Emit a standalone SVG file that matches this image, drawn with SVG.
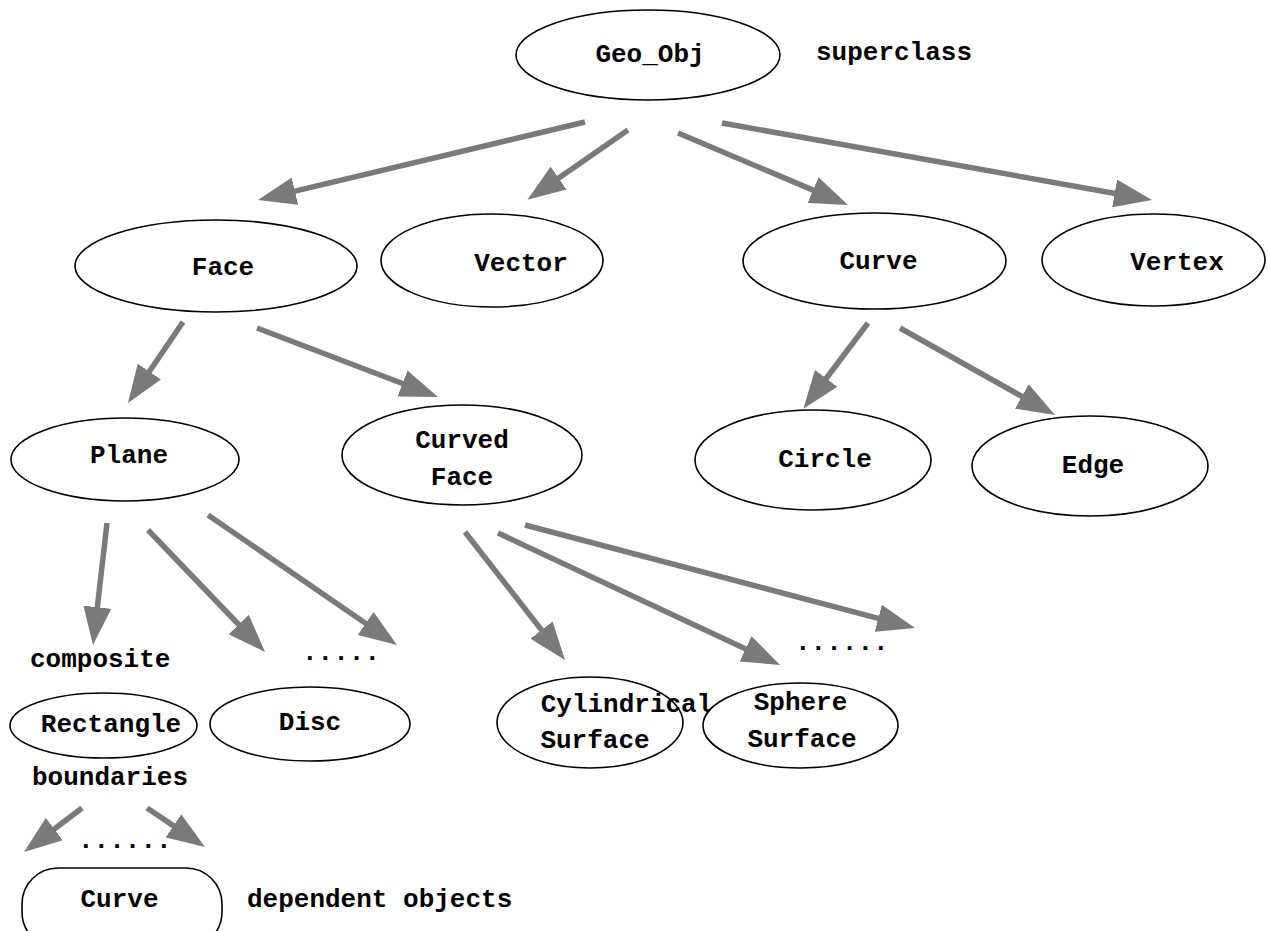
<svg xmlns="http://www.w3.org/2000/svg" width="1268" height="931" viewBox="0 0 1268 931">
  <style>
    .node { fill: #ffffff; stroke: #000000; stroke-width: 1.6; }
    .lbl { font-family: "Liberation Mono", "Courier New", monospace; font-weight: bold; font-size: 26px; fill: #000000; text-anchor: middle; }
    .note { font-family: "Liberation Mono", "Courier New", monospace; font-weight: bold; font-size: 26px; fill: #000000; }
    .link { stroke: #7a7a7a; stroke-width: 5.5; fill: none; marker-end: url(#head); }
  </style>
  <defs>
    <marker id="head" markerUnits="userSpaceOnUse" viewBox="0 0 38 28" markerWidth="38" markerHeight="28" refX="2" refY="14" orient="auto">
      <path d="M0,0 L38,14 L0,28 Z" fill="#7a7a7a"/>
    </marker>
  </defs>
  <rect width="1268" height="931" fill="#ffffff"/>

  <!-- class hierarchy connectors -->
  <g id="connectors">
    <line class="link" x1="585" y1="122" x2="293" y2="191.6"/>
    <line class="link" x1="628" y1="130" x2="557" y2="179.2"/>
    <line class="link" x1="678" y1="133" x2="814.9" y2="190.9"/>
    <line class="link" x1="722" y1="123" x2="1116.6" y2="193.7"/>
    <line class="link" x1="183" y1="322" x2="148.2" y2="373.2"/>
    <line class="link" x1="257" y1="328" x2="404.4" y2="384.2"/>
    <line class="link" x1="868" y1="323" x2="825" y2="380"/>
    <line class="link" x1="900" y1="328" x2="1023.6" y2="397.4"/>
    <line class="link" x1="107" y1="523" x2="97.1" y2="609.2"/>
    <line class="link" x1="148" y1="530" x2="240.1" y2="626"/>
    <line class="link" x1="208" y1="515" x2="367.3" y2="624.6"/>
    <line class="link" x1="465" y1="532" x2="542.8" y2="631.6"/>
    <line class="link" x1="498" y1="533" x2="747.4" y2="649.7"/>
    <line class="link" x1="525" y1="525" x2="880.2" y2="618.8"/>
    <line class="link" x1="82" y1="808" x2="52.7" y2="830.2"/>
    <line class="link" x1="147" y1="808" x2="175.1" y2="826.9"/>
  </g>

  <g id="geo_obj">
    <ellipse class="node" cx="648" cy="55" rx="132" ry="45"/>
    <text class="lbl" x="650" y="62">Geo_Obj</text>
  </g>
  <text class="note" x="816" y="60">superclass</text>

  <g id="face">
    <ellipse class="node" cx="216" cy="266" rx="141" ry="46"/>
    <text class="lbl" x="223" y="275">Face</text>
  </g>
  <g id="vector">
    <ellipse class="node" cx="492" cy="260.5" rx="111" ry="46.5"/>
    <text class="lbl" x="521" y="271">Vector</text>
  </g>
  <g id="curve">
    <ellipse class="node" cx="874.5" cy="261" rx="131.5" ry="48"/>
    <text class="lbl" x="878.5" y="269">Curve</text>
  </g>
  <g id="vertex">
    <ellipse class="node" cx="1153.5" cy="260" rx="111.5" ry="46"/>
    <text class="lbl" x="1177" y="270">Vertex</text>
  </g>

  <g id="plane">
    <ellipse class="node" cx="125" cy="459.5" rx="114" ry="41.5"/>
    <text class="lbl" x="129" y="463">Plane</text>
  </g>
  <g id="curved_face">
    <ellipse class="node" cx="462" cy="455" rx="120" ry="50"/>
    <text class="lbl" x="462" y="448">Curved</text>
    <text class="lbl" x="462" y="485">Face</text>
  </g>
  <g id="circle">
    <ellipse class="node" cx="813" cy="460" rx="118" ry="50"/>
    <text class="lbl" x="825" y="467">Circle</text>
  </g>
  <g id="edge">
    <ellipse class="node" cx="1090" cy="466" rx="118" ry="50"/>
    <text class="lbl" x="1093" y="473">Edge</text>
  </g>

  <text class="note" x="30" y="667">composite</text>
  <text class="note" x="302" y="660">.....</text>
  <text class="note" x="795" y="650">......</text>

  <g id="rectangle">
    <ellipse class="node" cx="103.5" cy="725.5" rx="93.5" ry="32.5"/>
    <text class="lbl" x="111" y="732">Rectangle</text>
  </g>
  <g id="disc">
    <ellipse class="node" cx="310" cy="724" rx="100" ry="37"/>
    <text class="lbl" x="310" y="730">Disc</text>
  </g>
  <g id="cylindrical_surface">
    <ellipse class="node" cx="590" cy="722.5" rx="93" ry="45.5"/>
    <text class="lbl" x="626.5" y="712">Cylindrical</text>
    <text class="lbl" x="595" y="748">Surface</text>
  </g>
  <g id="sphere_surface">
    <ellipse class="node" cx="800.5" cy="725.5" rx="97.5" ry="42.5"/>
    <text class="lbl" x="800.5" y="710">Sphere</text>
    <text class="lbl" x="802" y="747">Surface</text>
  </g>

  <text class="note" x="32" y="785">boundaries</text>
  <text class="note" x="78" y="848">......</text>

  <g id="curve_dependent">
    <rect class="node" x="22" y="868" width="200" height="80" rx="36" ry="36"/>
    <text class="lbl" x="119.5" y="907">Curve</text>
  </g>
  <text class="note" x="247" y="907">dependent objects</text>
</svg>
